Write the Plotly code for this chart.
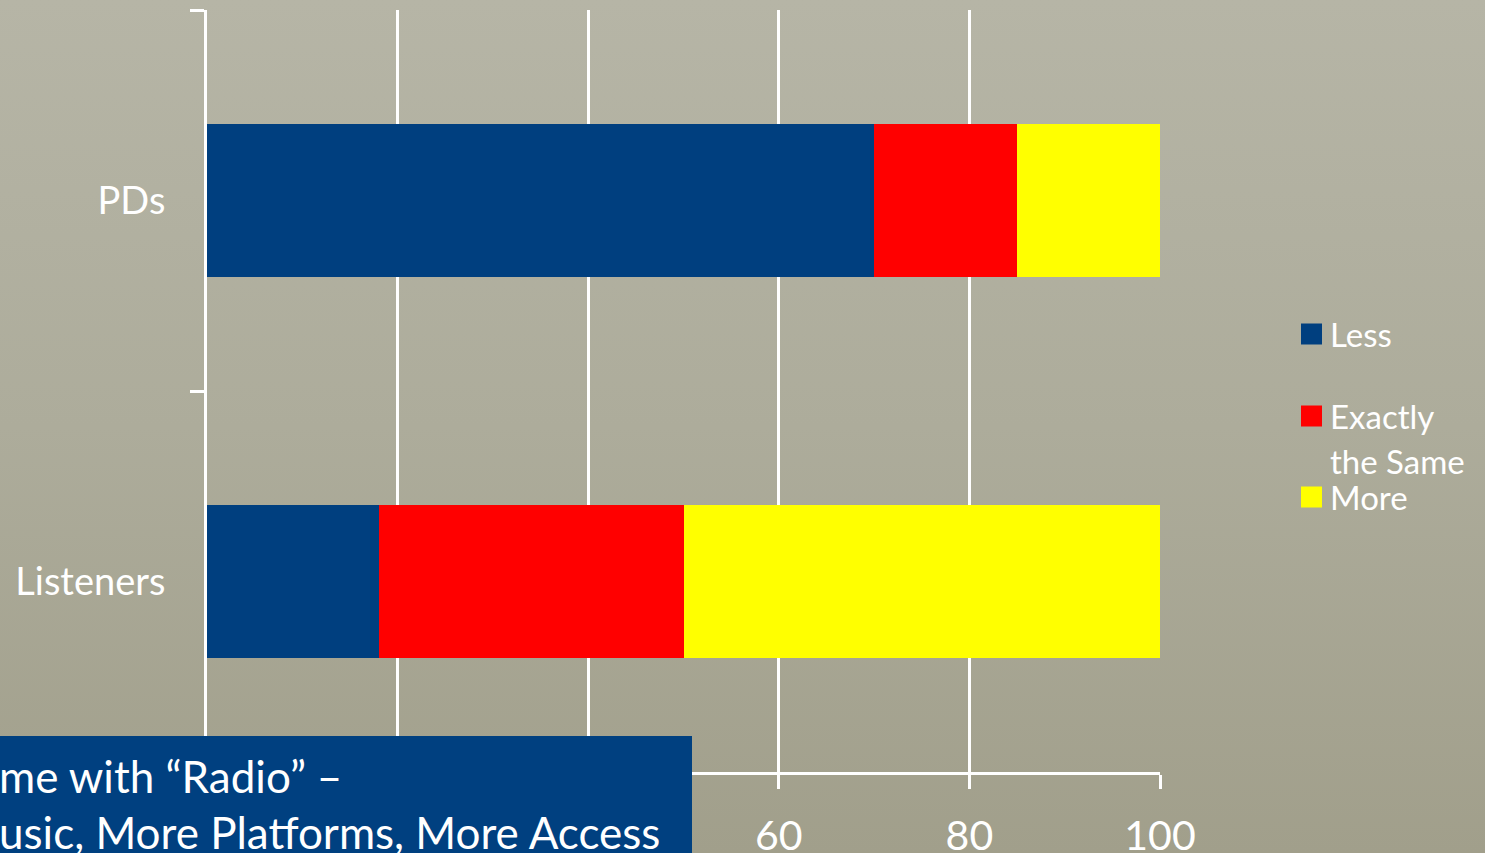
import base64
import plotly.graph_objects as go

# ---- data ----
categories = ["Listeners", "PDs"]
series_names = ["Less", "Exactly the Same", "More"]
less_vals = [18, 70]
same_vals = [32, 15]
more_vals = [50, 15]
x_tickvals = [0, 20, 40, 60, 80, 100]
legend_lines = [["Less"], ["Exactly", "the Same"], ["More"]]
box_lines = ["me with \u201cRadio\u201d \u2013", "usic, More Platforms, More Access"]

colors = ["#003F7F", "#FF0000", "#FFFF00"]
FONT = "Lato"
W, H = 1485, 853
ML, MR, MT, MB = 207, 325, 10, 81
PW, PH = W - ML - MR, H - MT - MB


def px_x(px):
    return (px - ML) / PW


def px_y(py):
    return (H - MB - py) / PH


fig = go.Figure()
for name, vals, col in zip(series_names, [less_vals, same_vals, more_vals], colors):
    fig.add_trace(go.Bar(
        y=categories, x=vals, name=name, orientation="h",
        marker=dict(color=col, line=dict(width=0)), showlegend=False,
    ))

# gradient background image
svg = ('<svg xmlns="http://www.w3.org/2000/svg" width="100" height="100" preserveAspectRatio="none">'
       '<defs><linearGradient id="g" x1="0" y1="0" x2="0" y2="1">'
       '<stop offset="0" stop-color="#b6b5a6"/><stop offset="0.5" stop-color="#adac9b"/>'
       '<stop offset="1" stop-color="#a19f8b"/></linearGradient></defs>'
       '<rect width="100" height="100" fill="url(#g)"/></svg>')
src = "data:image/svg+xml;base64," + base64.b64encode(svg.encode()).decode()

shapes = []
annotations = []

# text box bottom-left
shapes.append(dict(type="rect", xref="paper", yref="paper", layer="above",
                   x0=px_x(0), x1=px_x(692), y0=px_y(860), y1=px_y(736),
                   fillcolor="#004080", line=dict(width=0)))
for i, t in enumerate(box_lines):
    annotations.append(dict(xref="paper", yref="paper", x=px_x(-3), y=px_y(776 + i * 56),
                            xanchor="left", yanchor="middle", text=t, showarrow=False,
                            font=dict(family=FONT, size=44, color="white")))

# custom legend
leg_y = [334, 416, 497]
for name_lines, col, cy in zip(legend_lines, colors, leg_y):
    shapes.append(dict(type="rect", xref="paper", yref="paper",
                       x0=px_x(1301), x1=px_x(1322), y0=px_y(cy + 10.5), y1=px_y(cy - 10.5),
                       fillcolor=col, line=dict(width=0)))
    for j, ln in enumerate(name_lines):
        annotations.append(dict(xref="paper", yref="paper", x=px_x(1328), y=px_y(cy + j * 45),
                                xanchor="left", yanchor="middle", text=ln, showarrow=False,
                                font=dict(family=FONT, size=33, color="white")))

fig.update_layout(
    width=W, height=H,
    margin=dict(l=ML, r=MR, t=MT, b=MB, pad=0, autoexpand=False),
    barmode="stack", bargap=0.6,
    paper_bgcolor="#adac9b", plot_bgcolor="rgba(0,0,0,0)",
    font=dict(family=FONT, color="white"),
    shapes=shapes, annotations=annotations,
    images=[dict(source=src, xref="paper", yref="paper", x=px_x(0), y=px_y(0),
                 sizex=W / PW, sizey=H / PH, sizing="stretch", xanchor="left", yanchor="top",
                 layer="below")],
    xaxis=dict(range=[0, 100], tickvals=x_tickvals, showgrid=True, gridcolor="white", gridwidth=2.5,
               zeroline=False, showline=True, linecolor="white", linewidth=2.5,
               ticks="outside", ticklen=14, tickwidth=2.5, tickcolor="white", automargin=False,
               tickfont=dict(family=FONT, size=41, color="white"), ticklabelstandoff=12),
    yaxis=dict(categoryorder="array", categoryarray=categories, tickson="boundaries",
               showgrid=False, zeroline=False, showline=True, linecolor="white", linewidth=3,
               ticks="outside", ticklen=14, tickwidth=2.5, tickcolor="white", automargin=False,
               tickfont=dict(family=FONT, size=38, color="white"), ticklabelstandoff=31),
)

fig.write_html("out.html")
